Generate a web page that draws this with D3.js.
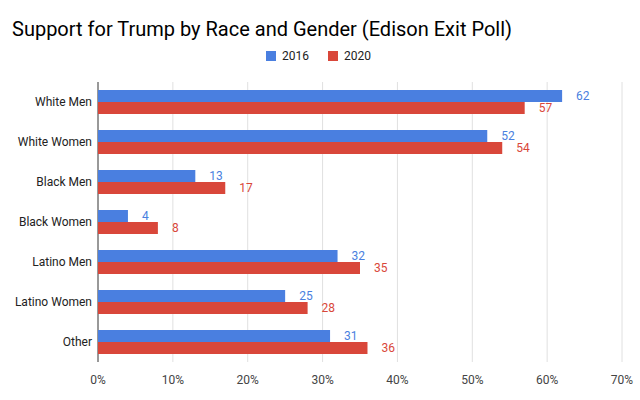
<!DOCTYPE html>
<html><head><meta charset="utf-8">
<script src="https://cdn.jsdelivr.net/npm/d3@7"></script>
<style>body{margin:0;background:#fff}text{font-family:Roboto,Arial,sans-serif}</style>
</head><body><svg width="640" height="400"></svg>
<script>
const categories = ["White Men", "White Women", "Black Men", "Black Women", "Latino Men", "Latino Women", "Other"]
const series = ["2016", "2020"]
const values2016 = [62, 52, 13, 4, 32, 25, 31]
const values2020 = [57, 54, 17, 8, 35, 28, 36]
const ticks = [0, 10, 20, 30, 40, 50, 60, 70]
const colors = ["#4a7fe0", "#d9473a"]

var svg = d3.select("svg")
var m = {l: 98, r: 18, t: 82, b: 38}
var W = 640, H = 400

svg.append("text").attr("x", 12).attr("y", 36).attr("font-size", 20).attr("fill", "#000")
	.text("Support for Trump by Race and Gender (Edison Exit Poll)")

var x = d3.scaleLinear().domain([0, 70]).range([m.l, W - m.r])
var y = d3.scaleBand().domain(categories).range([m.t, H - m.b]).paddingInner(0.4).paddingOuter(0.2)
var sub = d3.scaleBand().domain(series).range([0, y.bandwidth()])

svg.append("g").selectAll("line").data(ticks).join("line")
	.attr("x1", d => x(d)).attr("x2", d => x(d))
	.attr("y1", m.t).attr("y2", H - m.b)
	.attr("stroke", d => d ? "#e0e0e0" : "#333").attr("stroke-width", 1)

svg.append("g").selectAll("text").data(ticks).join("text")
	.attr("x", d => x(d)).attr("y", H - m.b + 22).attr("text-anchor", "middle")
	.attr("font-size", 12).attr("fill", "#444").text(d => d + "%")

svg.append("g").selectAll("text").data(categories).join("text")
	.attr("x", m.l - 6).attr("y", d => y(d) + y.bandwidth() / 2 + 4).attr("text-anchor", "end")
	.attr("font-size", 12).attr("fill", "#222").text(d => d)

var rows = categories.map((c, i) => ({c, vals: [values2016[i], values2020[i]]}))
var g = svg.append("g").selectAll("g").data(rows).join("g")
	.attr("transform", d => `translate(0,${y(d.c)})`)
series.forEach((s, j) => {
	g.append("rect").attr("x", x(0)).attr("y", sub(s))
		.attr("width", d => x(d.vals[j]) - x(0)).attr("height", sub.bandwidth())
		.attr("fill", colors[j])
	g.append("text").attr("x", d => x(d.vals[j]) + 14).attr("y", sub(s) + sub.bandwidth() / 2 + 4)
		.attr("font-size", 12).attr("fill", colors[j]).text(d => d.vals[j])
})

var lg = svg.append("g").attr("transform", "translate(266,56)")
series.forEach((s, j) => {
	var o = j * 62
	lg.append("rect").attr("x", o).attr("y", -5).attr("width", 10).attr("height", 10).attr("fill", colors[j])
	lg.append("text").attr("x", o + 16).attr("y", 4).attr("font-size", 12).attr("fill", "#222").text(s)
})
</script></body></html>
